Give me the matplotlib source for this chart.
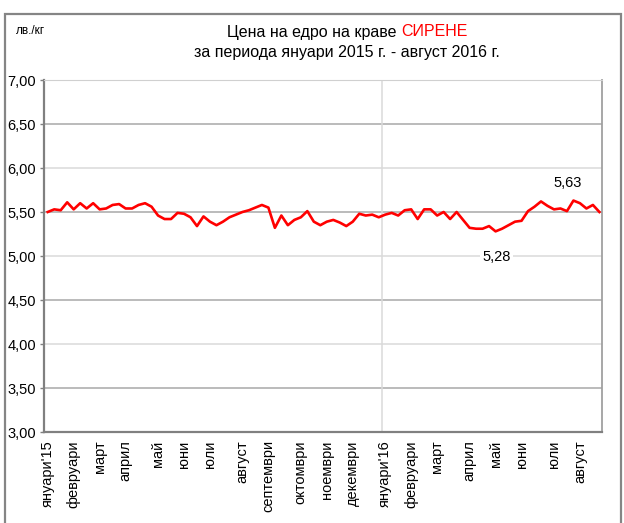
"""
Wholesale price of cow cheese, weekly, Jan 2015 - Aug 2016.
"""

import matplotlib
matplotlib.use("Agg")  # Non-interactive backend
import matplotlib.pyplot as plt
from matplotlib.patches import Rectangle
from matplotlib.ticker import FuncFormatter, MultipleLocator

plt.rcParams["font.family"] = ["Liberation Sans", "DejaVu Sans"]

# weekly prices, лв./кг
prices = [
    5.50, 5.53, 5.52, 5.61, 5.53, 5.60, 5.54, 5.60, 5.53, 5.54,
    5.58, 5.59, 5.54, 5.54, 5.58, 5.60, 5.56, 5.46, 5.42, 5.42,
    5.49, 5.48, 5.44, 5.34, 5.45, 5.39, 5.35, 5.39, 5.44, 5.47,
    5.50, 5.52, 5.55, 5.58, 5.55, 5.32, 5.46, 5.35, 5.41, 5.44,
    5.51, 5.39, 5.35,
    5.39, 5.41, 5.38, 5.34, 5.39, 5.48, 5.46, 5.47, 5.44, 5.47,
    5.49, 5.46, 5.52, 5.53, 5.42, 5.53, 5.53, 5.46, 5.50, 5.42,
    5.50, 5.41, 5.32, 5.31, 5.31, 5.34, 5.28, 5.31, 5.35, 5.39,
    5.40, 5.51, 5.56, 5.62, 5.57, 5.53, 5.54, 5.51, 5.63, 5.60,
    5.54, 5.58, 5.50,
]

month_labels = ["януари'15", "февруари", "март", "април", "май", "юни",
                "юли", "август", "септември", "октомври", "ноември",
                "декември", "януари'16", "февруари", "март", "април",
                "май", "юни", "юли", "август"]
month_weeks = [0, 4, 8, 12, 17, 21, 25, 30, 34, 39, 43, 47,
               52, 56, 60, 65, 69, 73, 78, 82]
year_break = 51.5

W, H = 624, 523
fig = plt.figure(figsize=(W / 100, H / 100), dpi=100)
fig.patch.set_facecolor("white")

# outer chart frame
fig.patches.append(Rectangle((4.5 / W, -0.05), 616 / W, 1.05 - 14 / H,
                             transform=fig.transFigure, fill=False,
                             edgecolor="#858585", linewidth=1.6))

ax = fig.add_axes([43.5 / W, 1 - 432 / H, (602 - 43.5) / W, (432 - 80) / H])

# ── grid ──
levels = [3.0, 3.5, 4.0, 4.5, 5.0, 5.5, 6.0, 6.5, 7.0]
for i, lv in enumerate(levels):
    col = "#a8a8a8" if i % 2 == 1 else "#dadada"
    ax.axhline(lv, color=col, linewidth=1.1, zorder=1)
ax.axvline(year_break, color="#dadada", linewidth=1.1, zorder=1)

x = list(range(len(prices)))
ax.plot(x, prices, color="#ff0000", linewidth=1.9, zorder=3)

ax.set_xlim(-0.65, len(prices) - 1 + 0.4)
ax.set_ylim(3.0, 7.0)

ax.yaxis.set_major_locator(MultipleLocator(0.5))
ax.yaxis.set_major_formatter(FuncFormatter(lambda v, _: f"{v:.2f}".replace(".", ",")))
ax.tick_params(axis="y", length=3, width=1, color="#808080", pad=2.5,
               labelsize=10.5)

ax.set_xticks(month_weeks)
ax.set_xticklabels(month_labels, rotation=90, fontsize=10.5)
ax.tick_params(axis="x", length=0, pad=6)

for side in ("left", "bottom"):
    ax.spines[side].set_color("#808080")
    ax.spines[side].set_linewidth(1.6)
ax.spines["right"].set_color("#a0a0a0")
ax.spines["right"].set_linewidth(1.3)
ax.spines["top"].set_color("#d0d0d0")

# ── min / max labels ──
i_max = prices.index(max(prices))
i_min = prices.index(min(prices))
ax.annotate(f"{prices[i_max]:.2f}".replace(".", ","), (i_max, prices[i_max]),
            xytext=(-6, 18), textcoords="offset pixels", ha="center",
            va="center", fontsize=10.5, zorder=4)
ax.annotate(f"{prices[i_min]:.2f}".replace(".", ","), (i_min, prices[i_min]),
            xytext=(1, -26), textcoords="offset pixels", ha="center",
            va="center", fontsize=10.5, zorder=4,
            bbox=dict(boxstyle="square,pad=0.15", fc="white", ec="none"))

# ── titles ──
fig.text(16 / W, 1 - 31 / H, "лв./кг", fontsize=8.5, va="center", ha="left")

r = fig.canvas.get_renderer()
t1 = fig.text(0, 1 - 32 / H, "Цена на едро на краве", fontsize=11.5,
              va="center", ha="left")
t2 = fig.text(0, 1 - 32 / H, "СИРЕНЕ", fontsize=11.5, color="#ff0000",
              va="center", ha="left")
w1 = t1.get_window_extent(r).width
w2 = t2.get_window_extent(r).width
gap = 4.5
start = 347 - (w1 + gap + w2) / 2
t1.set_x(start / W)
t2.set_x((start + w1 + gap) / W)
fig.text(347 / W, 1 - 52 / H, "за периода януари 2015 г. - август 2016 г.",
         fontsize=11.5, va="center", ha="center")

plt.savefig("out.png", dpi=100)
plt.close()
